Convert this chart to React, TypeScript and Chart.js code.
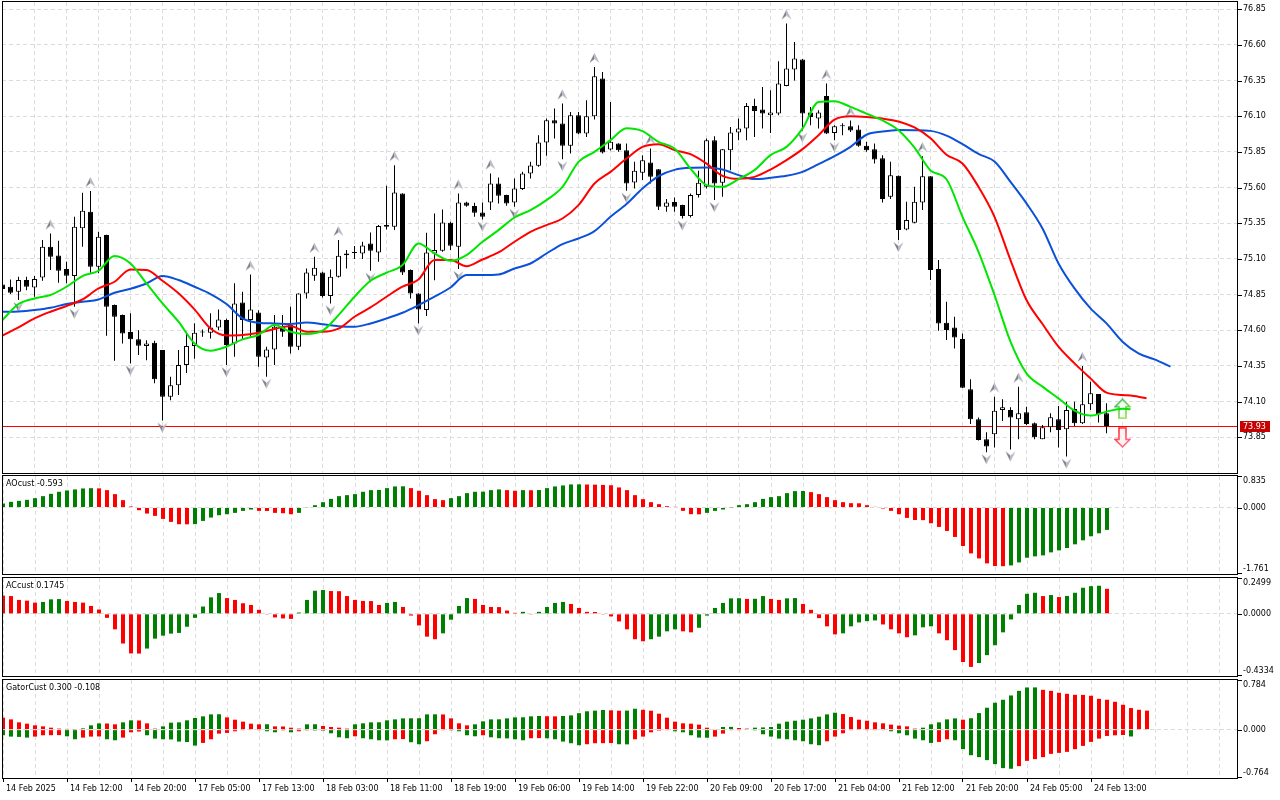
import React, { useEffect, useRef } from "react";
import { Chart, registerables } from "chart.js";

Chart.register(...registerables);

// ================= DATA =================
const timeLabels = [
  "14 Feb 2025", "14 Feb 12:00", "14 Feb 20:00", "17 Feb 05:00", "17 Feb 13:00", "18 Feb 03:00",
  "18 Feb 11:00", "18 Feb 19:00", "19 Feb 06:00", "19 Feb 14:00", "19 Feb 22:00", "20 Feb 09:00",
  "20 Feb 17:00", "21 Feb 04:00", "21 Feb 12:00", "21 Feb 20:00", "24 Feb 05:00", "24 Feb 13:00",
];

const priceTicks = [73.85, 74.1, 74.35, 74.6, 74.85, 75.1, 75.35, 75.6, 75.85, 76.1, 76.35, 76.6, 76.85];
const priceRange = [73.6, 76.9];

const opens = [
  74.92, 74.905, 74.87, 74.952, 74.9, 74.97, 75.185, 75.124, 75.029, 74.98,
  75.314, 75.43, 75.045, 75.267, 74.777, 74.707, 74.588, 74.537, 74.49, 74.513,
  74.462, 74.135, 74.214, 74.357, 74.49, 74.585, 74.583, 74.62, 74.672, 74.508,
  74.795, 74.672, 74.725, 74.41, 74.466, 74.625, 74.637, 74.485, 74.858, 74.982,
  75.005, 74.84, 74.975, 75.126, 75.142, 75.138, 75.208, 75.145, 75.337, 75.325,
  75.558, 75.022, 74.858, 74.742, 75.138, 75.157, 75.353, 75.185, 75.495, 75.47,
  75.425, 75.495, 75.628, 75.547, 75.495, 75.589, 75.698, 75.752, 75.915, 76.072,
  76.048, 75.892, 76.107, 75.978, 76.1, 76.364, 75.866, 75.908, 75.862, 75.635,
  75.703, 75.775, 75.729, 75.465, 75.498, 75.477, 75.4, 75.547, 75.605, 75.932,
  75.633, 75.862, 75.985, 76.013, 76.172, 76.146, 76.107, 76.118, 76.312, 76.427,
  76.497, 76.125, 76.083, 76.242, 75.983, 76.03, 76.03, 76.006, 75.892, 75.869,
  75.806, 75.535, 75.682, 75.306, 75.353, 75.495, 75.68, 75.029, 74.653, 74.62,
  74.539, 74.186, 73.976, 73.836, 73.871, 74.041, 74.041, 73.976, 74.025, 73.948,
  73.836, 73.92, 73.976, 73.906, 74.048, 73.948, 74.081, 74.153, 74.018,
];
const highs = [
  74.93, 74.956, 74.975, 74.975, 74.98, 75.232, 75.278, 75.227, 75.08, 75.395,
  75.563, 75.575, 75.29, 75.27, 74.78, 74.71, 74.72, 74.6, 74.53, 74.527,
  74.462, 74.275, 74.462, 74.59, 74.65, 74.605, 74.72, 74.746, 74.68, 74.93,
  74.87, 74.99, 74.74, 74.485, 74.707, 74.707, 74.765, 74.86, 75.033, 75.115,
  75.01, 75.026, 75.232, 75.162, 75.19, 75.22, 75.285, 75.337, 75.612, 75.757,
  75.56, 75.025, 74.86, 75.283, 75.418, 75.446, 75.36, 75.558, 75.5, 75.493,
  75.495, 75.698, 75.67, 75.55, 75.663, 75.71, 75.78, 75.967, 76.084, 76.154,
  76.189, 76.13, 76.13, 76.212, 76.445, 76.41, 76.2, 75.91, 75.908, 75.78,
  75.827, 75.873, 75.73, 75.519, 75.53, 75.48, 75.558, 75.717, 75.943, 75.96,
  75.87, 76.025, 76.083, 76.193, 76.223, 76.305, 76.282, 76.485, 76.749, 76.62,
  76.5, 76.165, 76.142, 76.329, 76.037, 76.05, 76.07, 76.037, 75.92, 75.908,
  75.827, 75.78, 75.685, 75.5, 75.605, 75.82, 75.68, 75.092, 74.8, 74.695,
  74.578, 74.256, 73.988, 73.885, 74.135, 74.116, 74.06, 74.205, 74.065, 73.953,
  73.936, 74.018, 74.07, 74.1, 74.1, 74.35, 74.24, 74.153, 74.088,
];
const lows = [
  74.88, 74.854, 74.812, 74.88, 74.835, 74.947, 75.022, 74.933, 74.93, 74.765,
  75.185, 75.003, 75.0, 74.562, 74.387, 74.508, 74.368, 74.426, 74.39, 74.228,
  73.967, 74.11, 74.147, 74.3, 74.4, 74.555, 74.543, 74.6, 74.356, 74.415,
  74.532, 74.555, 74.345, 74.275, 74.357, 74.555, 74.438, 74.462, 74.823, 74.947,
  74.83, 74.788, 74.97, 75.033, 75.1, 75.1, 75.017, 75.08, 75.306, 75.302,
  74.987, 74.823, 74.648, 74.7, 74.95, 75.15, 75.162, 75.03, 75.465, 75.395,
  75.376, 75.442, 75.488, 75.472, 75.465, 75.582, 75.663, 75.745, 75.822, 75.943,
  75.799, 75.838, 75.974, 75.955, 76.077, 75.838, 75.86, 75.85, 75.577, 75.593,
  75.652, 75.628, 75.442, 75.43, 75.43, 75.383, 75.39, 75.53, 75.593, 75.512,
  75.535, 75.722, 75.932, 75.932, 75.955, 76.013, 75.983, 76.107, 76.31, 76.35,
  76.0, 76.037, 76.013, 75.975, 75.932, 75.967, 75.99, 75.885, 75.85, 75.768,
  75.495, 75.519, 75.232, 75.3, 75.35, 75.442, 74.952, 74.597, 74.532, 74.473,
  74.195, 73.943, 73.827, 73.745, 73.778, 73.964, 73.765, 73.836, 73.936, 73.836,
  73.836, 73.885, 73.778, 73.715, 73.93, 73.943, 74.041, 73.953, 73.878,
];
const closes = [
  74.89, 74.863, 74.952, 74.905, 74.959, 75.185, 75.115, 75.017, 74.982, 75.325,
  75.437, 75.045, 75.255, 74.765, 74.695, 74.578, 74.537, 74.492, 74.508, 74.256,
  74.135, 74.214, 74.357, 74.49, 74.583, 74.592, 74.62, 74.676, 74.497, 74.788,
  74.672, 74.746, 74.415, 74.466, 74.625, 74.59, 74.485, 74.858, 75.005, 75.038,
  74.84, 74.975, 75.122, 75.138, 75.145, 75.194, 75.157, 75.33, 75.325, 75.565,
  75.005, 74.858, 74.746, 75.145, 75.162, 75.355, 75.192, 75.495, 75.472, 75.423,
  75.395, 75.628, 75.542, 75.488, 75.593, 75.698, 75.754, 75.915, 76.072, 76.048,
  75.892, 76.107, 75.978, 76.1, 76.38, 75.845, 75.92, 75.862, 75.628, 75.717,
  75.792, 75.675, 75.465, 75.495, 75.465, 75.4, 75.547, 75.633, 75.932, 75.628,
  75.869, 75.985, 76.013, 76.172, 76.137, 76.118, 76.125, 76.329, 76.434, 76.504,
  76.118, 76.095, 76.125, 75.978, 76.03, 76.035, 76.0, 75.892, 75.862, 75.796,
  75.519, 75.687, 75.302, 75.372, 75.5, 75.68, 75.022, 74.648, 74.602, 74.55,
  74.198, 73.976, 73.831, 73.785, 74.037, 74.06, 73.988, 74.018, 73.943, 73.85,
  73.92, 73.99, 73.901, 74.041, 73.948, 74.081, 74.158, 74.011, 73.93,
];

const upFractalBars = [6, 11, 31, 39, 42, 49, 57, 61, 70, 74, 81, 98, 103, 106, 115, 124, 127, 135];
const downFractalBars = [2, 9, 16, 20, 28, 33, 41, 46, 52, 57, 60, 64, 70, 78, 85, 89, 100, 104, 112, 123, 126, 133];

const jawLine = [
  [0, 74.73], [2, 74.732], [4, 74.742], [6, 74.758], [8, 74.784], [10, 74.8], [12, 74.816], [14, 74.863],
  [16, 74.891], [18, 74.928], [20, 74.98], [22, 74.952], [24, 74.905], [26, 74.854], [28, 74.784], [30, 74.684],
  [32, 74.653], [34, 74.648], [36, 74.644], [38, 74.655], [40, 74.643], [42, 74.629], [44, 74.625], [46, 74.648],
  [48, 74.683], [50, 74.723], [52, 74.776], [54, 74.835], [56, 74.9], [58, 74.987], [60, 74.987], [62, 74.991],
  [64, 75.033], [66, 75.068], [68, 75.138], [70, 75.204], [72, 75.243], [74, 75.295], [76, 75.395], [78, 75.485],
  [80, 75.593], [82, 75.68], [84, 75.724], [86, 75.738], [88, 75.74], [90, 75.726], [92, 75.687], [94, 75.659],
  [96, 75.668], [98, 75.682], [100, 75.71], [102, 75.764], [104, 75.82], [106, 75.885], [108, 75.97], [110, 75.992],
  [112, 76.003], [114, 76.002], [116, 75.997], [118, 75.964], [120, 75.904], [122, 75.836], [124, 75.782], [126, 75.64],
  [128, 75.489], [130, 75.313], [132, 75.068], [134, 74.893], [136, 74.753], [138, 74.648], [140, 74.52], [142, 74.438],
  [144, 74.396], [146, 74.345],
];
const teethLine = [
  [0, 74.562], [2, 74.62], [4, 74.683], [6, 74.73], [8, 74.77], [10, 74.816], [12, 74.893], [14, 74.94],
  [16, 75.026], [18, 75.022], [20, 74.947], [22, 74.859], [24, 74.746], [26, 74.613], [28, 74.564], [30, 74.567],
  [32, 74.583], [34, 74.609], [36, 74.63], [38, 74.59], [40, 74.59], [42, 74.611], [44, 74.695], [46, 74.76],
  [48, 74.835], [50, 74.905], [52, 74.956], [54, 75.092], [56, 75.092], [58, 75.049], [60, 75.096], [62, 75.145],
  [64, 75.22], [66, 75.29], [68, 75.337], [70, 75.383], [72, 75.477], [74, 75.628], [76, 75.71], [78, 75.803],
  [80, 75.885], [82, 75.904], [84, 75.862], [86, 75.834], [88, 75.768], [90, 75.682], [92, 75.661], [94, 75.675],
  [96, 75.726], [98, 75.792], [100, 75.869], [102, 75.967], [104, 76.076], [106, 76.1], [108, 76.095], [110, 76.083],
  [112, 76.063], [114, 76.021], [116, 75.945], [118, 75.83], [120, 75.769], [122, 75.605], [124, 75.395], [126, 75.092],
  [128, 74.812], [130, 74.644], [132, 74.485], [134, 74.368], [136, 74.263], [138, 74.163], [140, 74.147], [142, 74.135],
  [143, 74.123],
];
const lipsLine = [
  [0, 74.672], [2, 74.784], [4, 74.823], [6, 74.847], [8, 74.905], [10, 74.98], [12, 75.017], [14, 75.12],
  [16, 75.068], [18, 74.928], [20, 74.788], [22, 74.66], [24, 74.508], [26, 74.457], [28, 74.485], [30, 74.536],
  [32, 74.567], [34, 74.637], [36, 74.59], [38, 74.574], [40, 74.597], [42, 74.706], [44, 74.835], [46, 74.947],
  [48, 75.003], [50, 75.057], [52, 75.208], [54, 75.138], [56, 75.087], [58, 75.127], [60, 75.22], [62, 75.302],
  [64, 75.39], [66, 75.442], [68, 75.512], [70, 75.605], [72, 75.78], [74, 75.85], [76, 75.932], [78, 76.015],
  [80, 75.995], [82, 75.92], [84, 75.873], [86, 75.733], [88, 75.617], [90, 75.605], [92, 75.659], [94, 75.722],
  [96, 75.827], [98, 75.885], [100, 76.013], [102, 76.2], [104, 76.205], [106, 76.165], [108, 76.118], [110, 76.07],
  [112, 76.002], [114, 75.88], [116, 75.72], [118, 75.658], [120, 75.395], [122, 75.15], [124, 74.847], [126, 74.52],
  [128, 74.298], [130, 74.205], [132, 74.123], [134, 74.037], [136, 74.002], [138, 74.03], [140, 74.051], [141, 74.046],
];

const bidPrice = 73.93;
const buySignals = [[140, 74.05]];
const sellSignals = [[140, 73.85]];

const aoRange = [-1.761, 0.835];
const aoValues = [
  0.106, 0.151, 0.177, 0.204, 0.248, 0.301, 0.363, 0.417, 0.452, 0.479,
  0.505, 0.512, 0.508, 0.461, 0.355, 0.195, 0.027, -0.071, -0.16, -0.222,
  -0.301, -0.381, -0.443, -0.445, -0.44, -0.355, -0.266, -0.204, -0.177, -0.142,
  -0.089, -0.053, -0.089, -0.092, -0.142, -0.151, -0.177, -0.142, 0.009, 0.062,
  0.142, 0.23, 0.301, 0.328, 0.355, 0.417, 0.461, 0.465, 0.514, 0.559,
  0.562, 0.514, 0.443, 0.328, 0.222, 0.195, 0.248, 0.301, 0.381, 0.417,
  0.42, 0.461, 0.479, 0.461, 0.443, 0.461, 0.458, 0.463, 0.514, 0.559,
  0.585, 0.612, 0.614, 0.61, 0.606, 0.6, 0.59, 0.532, 0.461, 0.328,
  0.222, 0.142, 0.089, 0.035, 0.018, -0.089, -0.177, -0.18, -0.142, -0.089,
  -0.053, 0.005, 0.062, 0.089, 0.142, 0.23, 0.275, 0.301, 0.381, 0.434,
  0.437, 0.408, 0.355, 0.275, 0.195, 0.142, 0.115, 0.112, 0.062, 0.018,
  -0.027, -0.089, -0.177, -0.275, -0.33, -0.335, -0.417, -0.514, -0.621, -0.78,
  -1.02, -1.215, -1.348, -1.48, -1.551, -1.555, -1.534, -1.454, -1.33, -1.294,
  -1.268, -1.188, -1.135, -1.073, -0.975, -0.869, -0.762, -0.683, -0.593,
];

const acRange = [-0.4334, 0.2499];
const acValues = [
  0.127, 0.124, 0.097, 0.092, 0.078, 0.083, 0.101, 0.103, 0.09, 0.083,
  0.078, 0.055, 0.03, -0.028, -0.108, -0.207, -0.276, -0.277, -0.242, -0.173,
  -0.152, -0.138, -0.133, -0.09, -0.028, 0.051, 0.115, 0.145, 0.11, 0.097,
  0.074, 0.062, 0.028, -0.002, -0.025, -0.032, -0.035, 0.009, 0.097, 0.161,
  0.166, 0.159, 0.158, 0.124, 0.097, 0.09, 0.089, 0.062, 0.076, 0.083,
  0.048, -0.012, -0.081, -0.159, -0.177, -0.136, -0.041, 0.055, 0.11, 0.104,
  0.062, 0.048, 0.047, 0.023, 0.007, 0.014, -0.002, 0.014, 0.048, 0.076,
  0.083, 0.069, 0.041, 0.014, 0.013, -0.002, -0.018, -0.053, -0.108, -0.177,
  -0.191, -0.177, -0.159, -0.122, -0.108, -0.122, -0.129, -0.097, -0.012, 0.041,
  0.076, 0.108, 0.109, 0.104, 0.105, 0.124, 0.104, 0.097, 0.108, 0.11,
  0.069, 0.028, -0.03, -0.087, -0.143, -0.136, -0.087, -0.06, -0.051, -0.046,
  -0.074, -0.108, -0.136, -0.163, -0.15, -0.094, -0.087, -0.136, -0.184, -0.253,
  -0.336, -0.37, -0.343, -0.288, -0.219, -0.129, -0.039, 0.062, 0.14, 0.147,
  0.124, 0.131, 0.117, 0.125, 0.147, 0.182, 0.193, 0.196, 0.1745,
];

const gatorRange = [-0.764, 0.784];
const gatorUpper = [
  0.189, 0.162, 0.115, 0.094, 0.068, 0.052, 0.031, 0.016, 0.012, 0.005,
  0.02, 0.068, 0.099, 0.097, 0.084, 0.115, 0.147, 0.145, 0.099, 0.016,
  0.052, 0.11, 0.115, 0.147, 0.184, 0.21, 0.241, 0.243, 0.194, 0.157,
  0.126, 0.094, 0.084, 0.085, 0.052, 0.05, 0.031, 0.016, 0.084, 0.085,
  0.058, 0.042, 0.031, 0.016, 0.084, 0.1, 0.115, 0.116, 0.147, 0.162,
  0.178, 0.179, 0.18, 0.241, 0.242, 0.24, 0.178, 0.1, 0.068, 0.084,
  0.131, 0.162, 0.163, 0.178, 0.194, 0.195, 0.21, 0.215, 0.212, 0.21,
  0.215, 0.225, 0.26, 0.29, 0.3, 0.31, 0.305, 0.299, 0.301, 0.33,
  0.314, 0.299, 0.252, 0.189, 0.126, 0.1, 0.094, 0.079, 0.031, 0.01,
  0.042, 0.044, 0.026, 0.016, 0.031, 0.035, 0.042, 0.094, 0.126, 0.141,
  0.157, 0.178, 0.204, 0.241, 0.267, 0.246, 0.199, 0.157, 0.141, 0.115,
  0.1, 0.079, 0.063, 0.052, 0.016, 0.031, 0.084, 0.115, 0.162, 0.178,
  0.157, 0.18, 0.262, 0.346, 0.425, 0.472, 0.54, 0.613, 0.666, 0.667,
  0.629, 0.613, 0.582, 0.566, 0.55, 0.549, 0.535, 0.487, 0.472, 0.44,
  0.393, 0.341, 0.314, 0.3,
];
const gatorLower = [
  -0.089, -0.11, -0.115, -0.126, -0.11, -0.089, -0.088, -0.087, -0.105, -0.152,
  -0.126, -0.11, -0.108, -0.152, -0.168, -0.126, -0.042, -0.03, -0.089, -0.142,
  -0.152, -0.155, -0.189, -0.195, -0.252, -0.21, -0.152, -0.063, -0.052, -0.026,
  -0.01, -0.008, -0.005, -0.026, -0.042, -0.012, -0.042, -0.026, -0.012, -0.014,
  -0.016, -0.058, -0.121, -0.136, -0.105, -0.136, -0.152, -0.168, -0.17, -0.152,
  -0.15, -0.199, -0.231, -0.183, -0.073, -0.01, -0.012, -0.026, -0.089, -0.105,
  -0.089, -0.121, -0.136, -0.138, -0.152, -0.168, -0.136, -0.134, -0.137, -0.152,
  -0.189, -0.215, -0.246, -0.231, -0.215, -0.214, -0.212, -0.231, -0.233, -0.152,
  -0.11, -0.042, -0.015, -0.01, -0.026, -0.042, -0.089, -0.126, -0.128, -0.11,
  -0.063, -0.01, -0.005, -0.008, -0.012, -0.073, -0.11, -0.142, -0.152, -0.168,
  -0.184, -0.231, -0.246, -0.184, -0.11, -0.058, -0.01, -0.008, -0.005, -0.004,
  -0.01, -0.026, -0.058, -0.089, -0.142, -0.168, -0.21, -0.194, -0.152, -0.168,
  -0.309, -0.404, -0.435, -0.482, -0.545, -0.608, -0.618, -0.577, -0.493, -0.466,
  -0.435, -0.383, -0.367, -0.351, -0.309, -0.257, -0.194, -0.142, -0.1, -0.09,
  -0.085, -0.108,
];

// ================= STYLE / LAYOUT =================
const W = 1280;
const PLOT_LEFT = 2;
const AXIS_W = 42;
const BAR_PX = 8;
const PLOT_W = W - AXIS_W - PLOT_LEFT;
const FONT_FAMILY = '"DejaVu Sans", "Liberation Sans", sans-serif';
const FONT_SIZE = 8;
const FONT_CSS = `${FONT_SIZE}px ${FONT_FAMILY}`;
const GRID = "#dcdcdc";
const GRID_DASH = [4, 3];
const UP = "#008000";
const DOWN = "#ff0000";
const JAW = "#0a50d8";
const TEETH = "#ff0000";
const LIPS = "#00e600";
const BID_LINE = "#ff0000";
const BID_BOX = "#c80000";

function labelAt(v: number): string {
  const k = v / 8;
  return Number.isInteger(k) && k >= 0 && k < timeLabels.length ? timeLabels[k] : "";
}

function xScale(offsetBars: number, withLabels: boolean) {
  const min = -offsetBars;
  const max = min + PLOT_W / BAR_PX;
  return {
    type: "linear",
    min,
    max,
    position: "bottom",
    offset: false,
    afterBuildTicks: (axis: any) => {
      const t: any[] = [];
      for (let v = 0; v <= max; v += 4) t.push({ value: v });
      axis.ticks = t;
    },
    afterFit: (axis: any) => {
      axis.height = withLabels ? 22 : 0;
    },
    grid: {
      display: true,
      offset: false,
      drawOnChartArea: true,
      color: GRID,
      lineWidth: 1,
      drawTicks: withLabels,
      tickLength: 4,
      tickWidth: 1,
      tickColor: (c: any) => (labelAt(c.tick ? c.tick.value : -1) ? "#000" : "rgba(0,0,0,0)"),
      tickBorderDash: [],
    },
    border: { display: false, dash: GRID_DASH },
    ticks: {
      display: withLabels,
      autoSkip: false,
      maxRotation: 0,
      minRotation: 0,
      align: "start",
      labelOffset: 3,
      padding: 2,
      color: "#000",
      font: { family: FONT_FAMILY, size: FONT_SIZE },
      callback: (v: any) => labelAt(Number(v)),
    },
  };
}

function rightY(range: number[], gridValues: number[]) {
  return {
    type: "linear",
    position: "right",
    min: range[0],
    max: range[1],
    afterBuildTicks: (axis: any) => {
      axis.ticks = gridValues.map((v) => ({ value: v }));
    },
    afterFit: (axis: any) => {
      axis.width = AXIS_W;
    },
    grid: { color: GRID, drawTicks: false },
    border: { display: false, dash: GRID_DASH },
    ticks: { display: false },
  };
}

function trendColors(values: number[], firstUp: boolean, byMagnitude: boolean): string[] {
  let up = firstUp;
  return values.map((v, i) => {
    if (i > 0) {
      const a = byMagnitude ? Math.abs(v) : v;
      const b = byMagnitude ? Math.abs(values[i - 1]) : values[i - 1];
      if (a > b) up = true;
      else if (a < b) up = false;
    }
    return up ? UP : DOWN;
  });
}

type SideLabel = { value: number; text: string };

function decorPlugin(opts: { title?: string; side?: SideLabel[]; bid?: number }) {
  return {
    id: "panelDecor",
    beforeDatasetsDraw(chart: any) {
      if (opts.bid === undefined) return;
      const { ctx, chartArea: a } = chart;
      const py = Math.round(chart.scales.y.getPixelForValue(opts.bid)) + 0.5;
      ctx.save();
      ctx.strokeStyle = BID_LINE;
      ctx.lineWidth = 1;
      ctx.beginPath();
      ctx.moveTo(a.left, py);
      ctx.lineTo(a.right, py);
      ctx.stroke();
      ctx.restore();
    },
    afterDraw(chart: any) {
      const { ctx, chartArea: a } = chart;
      const ys = chart.scales.y;
      ctx.save();
      ctx.font = FONT_CSS;
      ctx.textAlign = "left";
      ctx.textBaseline = "middle";
      ctx.lineWidth = 1;
      if (opts.side) {
        for (const s of opts.side) {
          const py = ys.getPixelForValue(s.value);
          const ty = Math.min(Math.max(py, a.top + 5), a.bottom - 5);
          const my = Math.round(Math.min(Math.max(py, a.top), a.bottom - 1)) + 0.5;
          ctx.strokeStyle = "#000";
          ctx.beginPath();
          ctx.moveTo(a.right, my);
          ctx.lineTo(a.right + 4, my);
          ctx.stroke();
          ctx.fillStyle = "#000";
          ctx.fillText(s.text, a.right + 5, ty);
        }
      }
      if (opts.bid !== undefined) {
        const py = Math.round(ys.getPixelForValue(opts.bid));
        ctx.fillStyle = BID_BOX;
        ctx.fillRect(a.right + 2, py - 5, 30, 11);
        ctx.fillStyle = "#ffffff";
        ctx.fillText(opts.bid.toFixed(2), a.right + 5, py + 0.5);
      }
      if (opts.title) {
        ctx.fillStyle = "#000";
        ctx.textBaseline = "top";
        ctx.fillText(opts.title, a.left + 4, a.top + 4);
      }
      ctx.strokeStyle = "#000";
      ctx.strokeRect(a.left + 0.5, a.top - 0.5, a.right - a.left - 1, a.bottom - a.top + 1);
      ctx.restore();
    },
  };
}

function fractalIcon(up: boolean): HTMLCanvasElement {
  const c = document.createElement("canvas");
  c.width = 11;
  c.height = 30;
  const g = c.getContext("2d") as CanvasRenderingContext2D;
  const t = up ? 1 : 17;
  const apexY = up ? t : t + 10;
  const baseY = up ? t + 10 : t;
  const notchY = up ? t + 6 : t + 4;
  g.beginPath();
  g.moveTo(5.5, apexY);
  g.lineTo(5.5, notchY);
  g.lineTo(0.5, baseY);
  g.closePath();
  g.fillStyle = "#7c818b";
  g.fill();
  g.beginPath();
  g.moveTo(5.5, apexY);
  g.lineTo(10.5, baseY);
  g.lineTo(5.5, notchY);
  g.closePath();
  g.fillStyle = "#b6bac2";
  g.fill();
  return c;
}

function signalIcon(up: boolean): HTMLCanvasElement {
  const c = document.createElement("canvas");
  c.width = 17;
  c.height = 21;
  const g = c.getContext("2d") as CanvasRenderingContext2D;
  const pts = [[8.5, 1], [16, 8.5], [12, 8.5], [12, 20], [5, 20], [5, 8.5], [1, 8.5]];
  g.beginPath();
  pts.forEach(([x, y], k) => {
    const yy = up ? y : 21 - y;
    if (k === 0) g.moveTo(x, yy);
    else g.lineTo(x, yy);
  });
  g.closePath();
  g.fillStyle = up ? "#f4fff4" : "#fff4f4";
  g.fill();
  const grad = g.createLinearGradient(0, 0, 17, 21);
  if (up) {
    grad.addColorStop(0, "#20b050");
    grad.addColorStop(1, "#b0e040");
  } else {
    grad.addColorStop(0, "#ff1010");
    grad.addColorStop(1, "#ff80a0");
  }
  g.lineWidth = 1.5;
  g.strokeStyle = grad;
  g.stroke();
  return c;
}

function baseOptions(padding: any, scales: any) {
  return {
    responsive: false,
    maintainAspectRatio: false,
    animation: false,
    devicePixelRatio: 1,
    events: [],
    layout: { padding, autoPadding: false },
    plugins: { legend: { display: false }, tooltip: { enabled: false }, title: { display: false } },
    scales,
  };
}

export default function App() {
  const mainRef = useRef<HTMLCanvasElement>(null);
  const aoRef = useRef<HTMLCanvasElement>(null);
  const acRef = useRef<HTMLCanvasElement>(null);
  const gatorRef = useRef<HTMLCanvasElement>(null);

  useEffect(() => {
    Chart.defaults.font.family = FONT_FAMILY;
    Chart.defaults.font.size = FONT_SIZE;
    Chart.defaults.color = "#000";
    const charts: Chart[] = [];

    // ---------- main price panel ----------
    const pts = (arr: number[][]) => arr.map(([x, y]) => ({ x, y }));
    const lineDs = (data: number[][], color: string) => ({
      type: "line",
      data: pts(data),
      borderColor: color,
      borderWidth: 2,
      pointRadius: 0,
      pointHoverRadius: 0,
      cubicInterpolationMode: "monotone",
      order: 0,
    });
    const iconDs = (data: number[][], icon: HTMLCanvasElement, order: number) => ({
      type: "line",
      showLine: false,
      data: pts(data),
      pointStyle: icon,
      pointRadius: 3,
      pointHoverRadius: 0,
      order,
    });
    const mainDatasets: any[] = [
      lineDs(lipsLine, LIPS),
      lineDs(teethLine, TEETH),
      lineDs(jawLine, JAW),
      iconDs(buySignals, signalIcon(true), 0),
      iconDs(sellSignals, signalIcon(false), 0),
      iconDs(upFractalBars.map((i) => [i, highs[i]]), fractalIcon(true), 1),
      iconDs(downFractalBars.map((i) => [i, lows[i]]), fractalIcon(false), 1),
      {
        type: "bar",
        data: opens.map((o, i) => ({ x: i, y: [o, closes[i]] })),
        backgroundColor: opens.map((o, i) => (closes[i] >= o ? "#ffffff" : "#000000")),
        borderColor: "#000000",
        borderWidth: 1,
        borderSkipped: false,
        inflateAmount: 0,
        barThickness: 5,
        minBarLength: 1,
        grouped: false,
        order: 2,
      },
      {
        type: "bar",
        data: opens.map((_, i) => ({ x: i, y: [lows[i], highs[i]] })),
        backgroundColor: "#000000",
        borderWidth: 0,
        inflateAmount: 0,
        barThickness: 1,
        grouped: false,
        order: 3,
      },
    ];
    charts.push(
      new Chart(mainRef.current as HTMLCanvasElement, {
        type: "bar",
        data: { datasets: mainDatasets },
        options: baseOptions(
          { left: PLOT_LEFT, right: 0, top: 2, bottom: 2 },
          { x: xScale(0.0625, false), y: rightY(priceRange, priceTicks) }
        ) as any,
        plugins: [
          decorPlugin({
            bid: bidPrice,
            side: priceTicks.map((v) => ({ value: v, text: v.toFixed(2) })),
          }),
        ],
      } as any)
    );

    // ---------- sub panels ----------
    const histDs = (values: number[], colors: string[]) => ({
      type: "bar",
      data: values.map((v, i) => ({ x: i, y: v })),
      backgroundColor: colors,
      borderWidth: 0,
      inflateAmount: 0,
      barThickness: 4,
      grouped: false,
    });
    const sideFor = (range: number[], digits: number): SideLabel[] => [
      { value: range[1], text: range[1].toFixed(digits) },
      { value: 0, text: (0).toFixed(digits) },
      { value: range[0], text: range[0].toFixed(digits) },
    ];

    charts.push(
      new Chart(aoRef.current as HTMLCanvasElement, {
        type: "bar",
        data: { datasets: [histDs(aoValues, trendColors(aoValues, true, false))] },
        options: baseOptions({ left: PLOT_LEFT, right: 0, top: 1, bottom: 1 }, { x: xScale(0.125, false), y: rightY(aoRange, [0]) }) as any,
        plugins: [
          decorPlugin({
            title: `AOcust ${aoValues[aoValues.length - 1].toFixed(3)}`,
            side: sideFor(aoRange, 3),
          }),
        ],
      } as any)
    );

    charts.push(
      new Chart(acRef.current as HTMLCanvasElement, {
        type: "bar",
        data: { datasets: [histDs(acValues, trendColors(acValues, false, false))] },
        options: baseOptions({ left: PLOT_LEFT, right: 0, top: 2, bottom: 1 }, { x: xScale(0.125, false), y: rightY(acRange, [0]) }) as any,
        plugins: [
          decorPlugin({
            title: `ACcust ${acValues[acValues.length - 1].toFixed(4)}`,
            side: sideFor(acRange, 4),
          }),
        ],
      } as any)
    );

    charts.push(
      new Chart(gatorRef.current as HTMLCanvasElement, {
        type: "bar",
        data: {
          datasets: [
            histDs(gatorUpper, trendColors(gatorUpper, false, true)),
            histDs(gatorLower, trendColors(gatorLower, true, true)),
          ],
        },
        options: baseOptions({ left: PLOT_LEFT, right: 0, top: 3, bottom: 0 }, { x: xScale(0.125, true), y: rightY(gatorRange, [0]) }) as any,
        plugins: [
          decorPlugin({
            title: `GatorCust ${gatorUpper[gatorUpper.length - 1].toFixed(3)} ${gatorLower[gatorLower.length - 1].toFixed(3)}`,
            side: sideFor(gatorRange, 3),
          }),
        ],
      } as any)
    );

    return () => {
      charts.forEach((c) => c.destroy());
    };
  }, []);

  return (
    <div
      style={{
        position: "fixed",
        left: 0,
        top: 0,
        width: 1280,
        height: 800,
        background: "#ffffff",
        overflow: "hidden",
      }}
    >
      <canvas ref={mainRef} width={1280} height={475} style={{ position: "absolute", left: 0, top: 0 }} />
      <canvas ref={aoRef} width={1280} height={100} style={{ position: "absolute", left: 0, top: 475 }} />
      <canvas ref={acRef} width={1280} height={101} style={{ position: "absolute", left: 0, top: 576 }} />
      <canvas ref={gatorRef} width={1280} height={123} style={{ position: "absolute", left: 0, top: 677 }} />
    </div>
  );
}
